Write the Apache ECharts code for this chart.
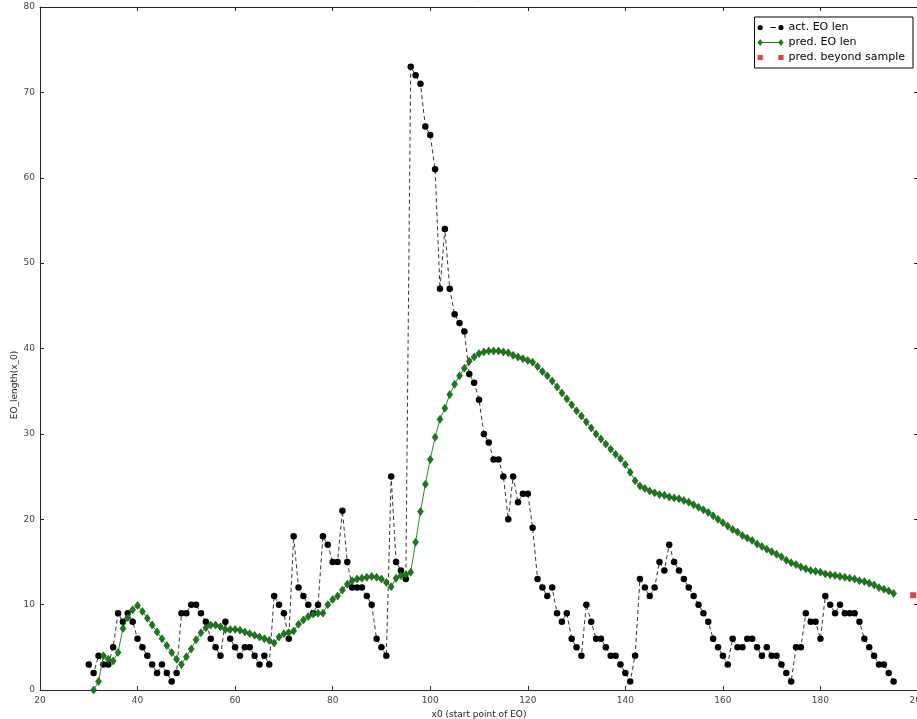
<!DOCTYPE html>
<html>
<head>
<meta charset="utf-8">
<script src="https://cdn.jsdelivr.net/npm/echarts@6/dist/echarts.min.js"></script>
<style>
html,body{margin:0;padding:0;background:#fff;}
#chart{width:917px;height:719px;}
</style>
</head>
<body>
<div id="chart"></div>
<script>
// ---- data ----
const xActual = [30,31,32,33,34,35,36,37,38,39,40,41,42,43,44,45,46,47,48,49,50,51,52,53,54,55,56,57,58,59,60,61,62,63,64,65,66,67,68,69,70,71,72,73,74,75,76,77,78,79,80,81,82,83,84,85,86,87,88,89,90,91,92,93,94,95,96,97,98,99,100,101,102,103,104,105,106,107,108,109,110,111,112,113,114,115,116,117,118,119,120,121,122,123,124,125,126,127,128,129,130,131,132,133,134,135,136,137,138,139,140,141,142,143,144,145,146,147,148,149,150,151,152,153,154,155,156,157,158,159,160,161,162,163,164,165,166,167,168,169,170,171,172,173,174,175,176,177,178,179,180,181,182,183,184,185,186,187,188,189,190,191,192,193,194,195];
const yActual = [
  3,2,4,3,3,5,9,8,9,8,
  6,5,4,3,2,3,2,1,2,9,
  9,10,10,9,8,6,5,4,8,6,
  5,4,5,5,4,3,4,3,11,10,
  9,6,18,12,11,10,9,10,18,17,
  15,15,21,15,12,12,12,11,10,6,
  5,4,25,15,14,13,73,72,71,66,
  65,61,47,54,47,44,43,42,37,36,
  34,30,29,27,27,25,20,25,22,23,
  23,19,13,12,11,12,9,8,9,6,
  5,4,10,8,6,6,5,4,4,3,
  2,1,4,13,12,11,12,15,14,17,
  15,14,13,12,11,10,9,8,6,5,
  4,3,6,5,5,6,6,5,4,5,
  4,4,3,2,1,5,5,9,8,8,
  6,11,10,9,10,9,9,9,8,6,
  5,4,3,3,2,1
];
const xPred = [31,32,33,34,35,36,37,38,39,40,41,42,43,44,45,46,47,48,49,50,51,52,53,54,55,56,57,58,59,60,61,62,63,64,65,66,67,68,69,70,71,72,73,74,75,76,77,78,79,80,81,82,83,84,85,86,87,88,89,90,91,92,93,94,95,96,97,98,99,100,101,102,103,104,105,106,107,108,109,110,111,112,113,114,115,116,117,118,119,120,121,122,123,124,125,126,127,128,129,130,131,132,133,134,135,136,137,138,139,140,141,142,143,144,145,146,147,148,149,150,151,152,153,154,155,156,157,158,159,160,161,162,163,164,165,166,167,168,169,170,171,172,173,174,175,176,177,178,179,180,181,182,183,184,185,186,187,188,189,190,191,192,193,194,195];
const yPred = [
  0.0,1.0,4.0,3.6,3.4,4.4,7.2,8.5,9.4,
  9.9,9.2,8.4,7.6,6.8,6.0,5.2,4.4,3.6,3.0,
  3.9,4.8,5.9,6.7,7.3,7.6,7.6,7.4,7.1,7.1,
  7.1,7.0,6.8,6.6,6.4,6.2,6.0,5.8,5.5,6.2,
  6.6,6.7,6.9,7.7,8.2,8.6,8.9,9.0,9.0,10.0,
  10.6,11.0,11.7,12.4,12.8,13.0,13.1,13.2,13.3,13.2,
  13.0,12.6,12.1,13.1,13.4,13.5,13.8,17.3,20.9,24.1,
  27.0,29.6,31.7,33.0,34.6,35.8,36.8,37.7,38.5,39.0,
  39.4,39.6,39.7,39.7,39.7,39.6,39.5,39.2,39.0,38.8,
  38.6,38.4,37.9,37.3,36.8,36.2,35.5,34.8,34.1,33.4,
  32.7,32.1,31.4,30.7,30.0,29.4,28.8,28.2,27.6,27.1,
  26.4,25.5,24.5,23.9,23.6,23.3,23.1,22.9,22.8,22.6,
  22.5,22.4,22.2,22.0,21.7,21.4,21.1,20.8,20.4,20.0,
  19.6,19.2,18.8,18.5,18.1,17.8,17.5,17.1,16.8,16.5,
  16.2,15.9,15.6,15.2,14.9,14.7,14.4,14.2,14.0,13.9,
  13.8,13.6,13.5,13.4,13.3,13.2,13.1,13.0,12.8,12.7,
  12.5,12.3,12.0,11.8,11.6,11.3
];
const xBeyond = [199];
const yBeyond = [11.1];

const seriesNames = ['act. EO len', 'pred. EO len', 'pred. beyond sample'];
const xTitle = 'x0 (start point of EO)';
const yTitle = 'EO_length(x_0)';

// ---- build ----
const zip = (xs, ys) => xs.map((x, i) => [x, ys[i]]);
const FONT = '"DejaVu Sans", sans-serif';
const tickLabel = { fontFamily: FONT, fontSize: 9, color: '#444' };

const chart = echarts.init(document.getElementById('chart'), null, { renderer: 'canvas' });

const baseX = {
  type: 'value', min: 20, max: 200, interval: 20,
  splitLine: { show: false },
  axisLine: { show: true, onZero: false, lineStyle: { color: '#222', width: 1 } },
  axisTick: { show: true, inside: true, length: 4, lineStyle: { color: '#222' } }
};
const baseY = {
  type: 'value', min: 0, max: 80, interval: 10,
  splitLine: { show: false },
  axisLine: { show: true, onZero: false, lineStyle: { color: '#222', width: 1 } },
  axisTick: { show: true, inside: true, length: 4, lineStyle: { color: '#222' } }
};

chart.setOption({
  animation: false,
  backgroundColor: '#fff',
  grid: { left: 40, right: -1, top: 7, bottom: 29, containLabel: false, outerBoundsMode: 'none' },
  xAxis: [
    Object.assign({}, baseX, {
      position: 'bottom',
      axisLabel: Object.assign({ margin: 6 }, tickLabel),
      name: xTitle, nameLocation: 'middle', nameGap: 14,
      nameTextStyle: { fontFamily: FONT, fontSize: 9, color: '#222' }
    }),
    Object.assign({}, baseX, { position: 'top', axisLabel: { show: false } })
  ],
  yAxis: [
    Object.assign({}, baseY, {
      position: 'left',
      axisLabel: Object.assign({ margin: 5 }, tickLabel)
    }),
    Object.assign({}, baseY, { position: 'right', axisLabel: { show: false } })
  ],
  graphic: [{
    type: 'text', x: 15, y: 385, rotation: Math.PI / 2,
    style: { text: yTitle, fontFamily: FONT, fontSize: 9, fill: '#222', textAlign: 'center', textVerticalAlign: 'middle' }
  }],
  legend: {
    orient: 'vertical', right: 4, top: 17,
    backgroundColor: '#fff', borderColor: '#000', borderWidth: 1, borderRadius: 0,
    padding: [5, 8, 5, 3],
    itemWidth: 26, itemHeight: 8, itemGap: 4,
    textStyle: { fontFamily: FONT, fontSize: 11, color: '#000' },
    itemStyle: { borderWidth: 0 },
    data: [
      { name: seriesNames[0], icon: 'path://M0,4A3,3 0 1 1 6,4A3,3 0 1 1 0,4Z M15,3.4L21,3.4L21,4.6L15,4.6Z M24,4A3,3 0 1 1 30,4A3,3 0 1 1 24,4Z' },
      { name: seriesNames[1], icon: 'path://M3,0L6,4L3,8L0,4Z M27,0L30,4L27,8L24,4Z M5,3.5L25,3.5L25,4.5L5,4.5Z' },
      { name: seriesNames[2], icon: 'path://M0,1L6,1L6,7L0,7Z M24,1L30,1L30,7L24,7Z' }
    ]
  },
  series: [
    {
      name: seriesNames[0], type: 'line', data: zip(xActual, yActual),
      symbol: 'circle', symbolSize: 6.5, showSymbol: true,
      itemStyle: { color: '#000' },
      lineStyle: { color: '#333', width: 1, type: [4, 3] },
      z: 2
    },
    {
      name: seriesNames[1], type: 'line', data: zip(xPred, yPred),
      symbol: 'diamond', symbolSize: [6, 8], showSymbol: true,
      itemStyle: { color: '#1a7a1a', borderColor: '#0a3d0a', borderWidth: 0.5 },
      lineStyle: { color: '#2a8a2a', width: 1 },
      z: 3
    },
    {
      name: seriesNames[2], type: 'scatter', data: zip(xBeyond, yBeyond),
      symbol: 'rect', symbolSize: 6,
      itemStyle: { color: '#dd1111' },
      z: 4
    }
  ]
});
</script>
</body>
</html>
